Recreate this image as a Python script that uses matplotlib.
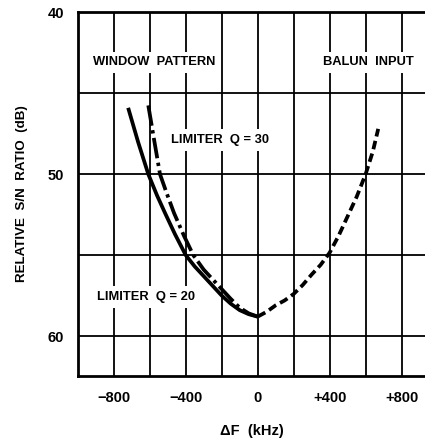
import matplotlib
matplotlib.use("Agg")
import matplotlib.pyplot as plt

# Data
q20_x = [-720, -665, -608, -560, -515, -460, -400, -350, -300, -250, -200, -150, -100, -50, 0]
q20_y = [45.9, 48.0, 50.0, 51.3, 52.4, 53.7, 55.0, 55.7, 56.3, 56.9, 57.5, 58.0, 58.4, 58.65, 58.8]
q30_x = [-608, -580, -543, -505, -465, -410, -358, -300, -250, -200, -150, -100, -50, 0]
q30_y = [45.75, 47.6, 50.0, 51.2, 52.4, 53.8, 55.0, 55.9, 56.5, 57.1, 57.7, 58.25, 58.6, 58.8]
balun_x = [0, 50, 100, 150, 200, 250, 300, 350, 400, 450, 500, 550, 600, 640, 670]
balun_y = [58.8, 58.5, 58.1, 57.8, 57.4, 56.85, 56.2, 55.6, 54.85, 53.8, 52.6, 51.4, 50.0, 48.6, 47.2]
x_ticks = [-800, -400, 0, 400, 800]
x_tick_labels = ["\u2212800", "\u2212400", "0", "+400", "+800"]
y_ticks = [40, 45, 50, 55, 60]
y_tick_labels = ["40", "", "50", "", "60"]

plt.rcParams["font.family"] = ["Liberation Sans", "DejaVu Sans"]
plt.rcParams["font.weight"] = "bold"

fig = plt.figure(figsize=(4.25, 4.46), dpi=100)
ax = fig.add_axes([0.183, 0.1576, 0.817, 0.8148])

ax.set_xlim(-1000, 930)
ax.set_ylim(62.45, 40)

for xv in range(-800, 1000, 200):
    ax.axvline(xv, color="black", lw=1.3, zorder=1)
for yv in y_ticks:
    ax.axhline(yv, color="black", lw=1.3, zorder=1)

lw = 2.7
ax.plot(q20_x, q20_y, color="black", lw=lw, solid_capstyle="butt", zorder=3)
ax.plot(q30_x, q30_y, color="black", lw=lw, linestyle=(0, (5.5, 1.2, 0.9, 1.2)), zorder=3)
ax.plot(balun_x, balun_y, color="black", lw=lw, linestyle=(0, (2.3, 1.2)), zorder=3)

bbox = dict(facecolor="white", edgecolor="none", pad=3.5)
fs = 9.3
ax.text(-578, 43.1, "WINDOW  PATTERN", ha="center", va="center", fontsize=fs,
        fontweight="bold", bbox=bbox, zorder=2)
ax.text(613, 43.1, "BALUN  INPUT", ha="center", va="center", fontsize=fs,
        fontweight="bold", bbox=bbox, zorder=2)
ax.text(-211, 47.9, "LIMITER  Q = 30", ha="center", va="center", fontsize=fs,
        fontweight="bold", bbox=bbox, zorder=2)
ax.text(-620, 57.6, "LIMITER  Q = 20", ha="center", va="center", fontsize=fs,
        fontweight="bold", bbox=bbox, zorder=2)

tfs = 10.5
ax.set_xticks(x_ticks)
ax.set_xticklabels(x_tick_labels, fontsize=tfs, fontweight="bold")
ax.set_yticks(y_ticks)
ax.set_yticklabels(y_tick_labels, fontsize=tfs, fontweight="bold")
ax.tick_params(axis="both", length=0)
ax.tick_params(axis="x", pad=11)
ax.tick_params(axis="y", pad=10)

ax.set_ylabel("RELATIVE  S/N  RATIO  (dB)", fontsize=9.6, fontweight="bold", labelpad=14)
ax.set_xlabel("\u0394F  (kHz)", fontsize=10.5, fontweight="bold", labelpad=14)

ax.spines["right"].set_visible(False)
for s in ["top", "left", "bottom"]:
    ax.spines[s].set_linewidth(2.0)

fig.savefig("out.png", dpi=100)
